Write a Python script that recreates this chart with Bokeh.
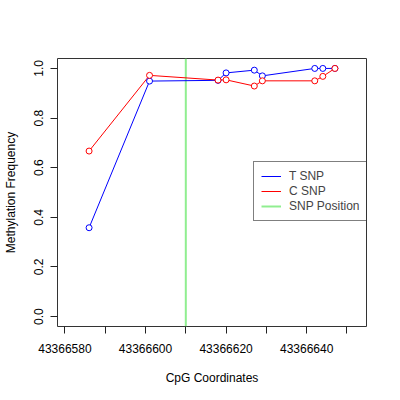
from bokeh.plotting import figure
from bokeh.models import FixedTicker, Range1d, Legend, LegendItem
from bokeh.embed import file_html
from bokeh.resources import INLINE

# ---- data ----
cpg_pos = [43366586, 43366601, 43366618, 43366620, 43366627, 43366629, 43366642, 43366644, 43366647]
meth_t = [0.358, 0.949, 0.952, 0.982, 0.993, 0.970, 1.0, 1.0, 1.0]
meth_c = [0.667, 0.972, 0.953, 0.954, 0.929, 0.950, 0.950, 0.968, 1.0]
snp_position = 43366610
x_ticks = [43366580, 43366590, 43366600, 43366610, 43366620, 43366630, 43366640, 43366650]
x_tick_labels = ["43366580", "", "43366600", "", "43366620", "", "43366640", ""]
y_ticks = [0.0, 0.2, 0.4, 0.6, 0.8, 1.0]
y_tick_labels = ["0.0", "0.2", "0.4", "0.6", "0.8", "1.0"]
series_names = ["T SNP", "C SNP", "SNP Position"]
series_colors = ["#0000FF", "#FF0000", "#90EE90"]

FONT = "Liberation Sans"
x_lo, x_hi = 43366578.16, 43366654.84
y_lo, y_hi = -0.04, 1.04

p = figure(
    frame_width=309, frame_height=268,
    min_border_left=51, min_border_top=58, min_border_right=20, min_border_bottom=60,
    x_range=Range1d(x_lo, x_hi),
    y_range=Range1d(y_lo, y_hi),
    output_backend="svg", toolbar_location=None,
    background_fill_color="white", border_fill_color="white",
)
p.grid.visible = False
p.outline_line_color = "#333333"
p.outline_line_width = 1

# axes
p.xaxis.ticker = FixedTicker(ticks=x_ticks)
p.xaxis.major_label_overrides = {t: l for t, l in zip(x_ticks, x_tick_labels)}
p.yaxis.ticker = FixedTicker(ticks=y_ticks)
p.yaxis.major_label_overrides = {t: l for t, l in zip(y_ticks, y_tick_labels)}
p.yaxis.major_label_orientation = "vertical"
for ax in (p.xaxis, p.yaxis):
    ax.axis_line_color = None
    ax.minor_tick_line_color = None
    ax.major_tick_in = 0
    ax.major_tick_out = 7
    ax.major_tick_line_color = "#222222"
    ax.major_label_text_font = FONT
    ax.major_label_text_font_size = "12px"
    ax.major_label_text_color = "black"
    ax.axis_label_text_font = FONT
    ax.axis_label_text_font_size = "12px"
    ax.axis_label_text_font_style = "normal"
    ax.axis_label_text_color = "black"
p.xaxis.axis_label = "CpG Coordinates"
p.yaxis.axis_label = "Methylation Frequency"
p.xaxis.major_label_standoff = 10
p.xaxis.axis_label_standoff = 15
p.yaxis.major_label_standoff = 7
p.yaxis.axis_label_standoff = 14

# SNP position line (spans the full y range)
lg = p.segment(x0=[snp_position], y0=[y_lo], x1=[snp_position], y1=[y_hi],
               line_color=series_colors[2], line_width=2)

# series
lt = p.line(cpg_pos, meth_t, line_color=series_colors[0], line_width=1)
lc = p.line(cpg_pos, meth_c, line_color=series_colors[1], line_width=1)
p.scatter(cpg_pos, meth_t, marker="circle", size=6, line_color=series_colors[0],
          fill_color="white", line_width=1)
p.scatter(cpg_pos, meth_c, marker="circle", size=6, line_color=series_colors[1],
          fill_color="white", line_width=1)

legend = Legend(
    items=[LegendItem(label=series_names[0], renderers=[lt]),
           LegendItem(label=series_names[1], renderers=[lc]),
           LegendItem(label=series_names[2], renderers=[lg])],
    location=(196, 105),
    margin=0, padding=7, spacing=1,
    glyph_width=20, glyph_height=14, label_height=14,
    label_standoff=8,
    label_text_font=FONT, label_text_font_size="12px",
    border_line_color="black", border_line_width=1,
    background_fill_color="white", background_fill_alpha=1,
)
p.add_layout(legend)

open("out.html", "w").write(file_html(p, INLINE))
